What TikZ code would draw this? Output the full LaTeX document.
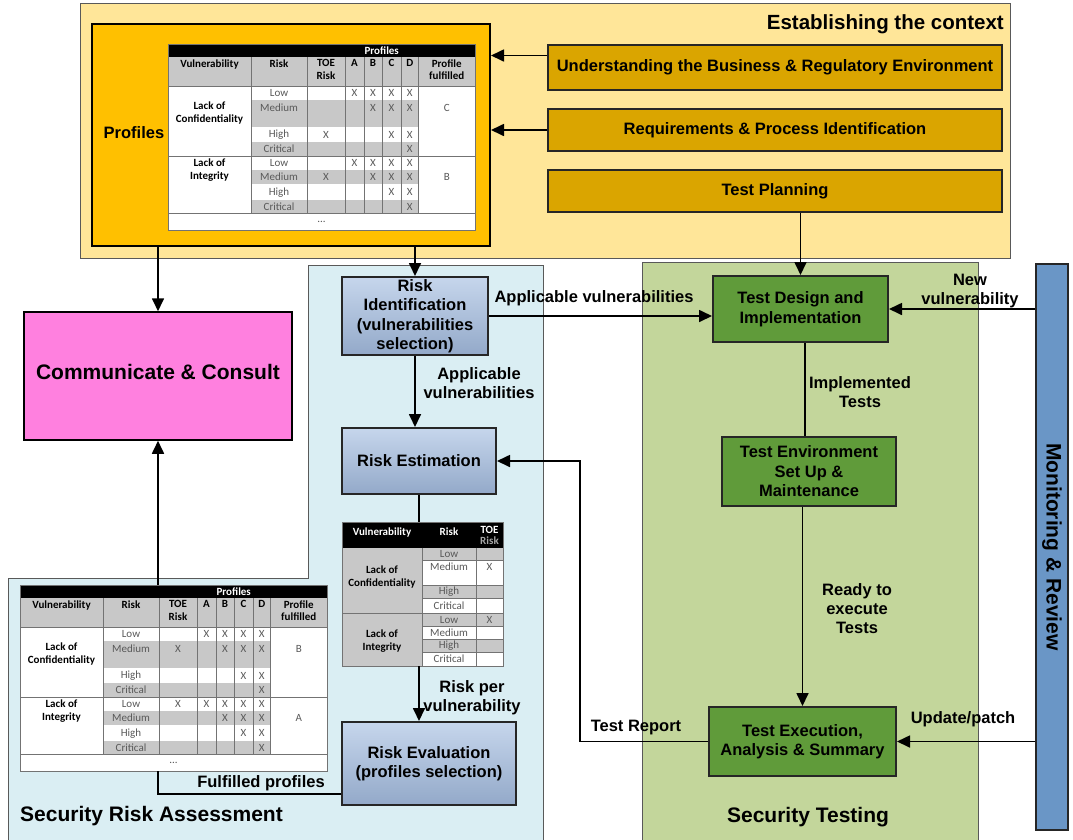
\documentclass[tikz,border=0pt]{standalone}
\usepackage{fontspec}
\setmainfont{Liberation Sans}
\newfontfamily\tabfont{Carlito}
\usetikzlibrary{arrows.meta,calc}

\definecolor{ctxY}{HTML}{FFE699}
\definecolor{profO}{HTML}{FFC000}
\definecolor{boxO}{HTML}{DAA500}
\definecolor{blueR}{HTML}{DAEEF3}
\definecolor{greenR}{HTML}{C3D69B}
\definecolor{greenB}{HTML}{609B3A}
\definecolor{magC}{HTML}{FF80DF}
\definecolor{monB}{HTML}{6A96C6}
\definecolor{riskA}{HTML}{C6D6EC}
\definecolor{riskB}{HTML}{93A9C9}
\definecolor{tgray}{HTML}{C8C8C8}

\tikzset{
  sz/.style 2 args={minimum width=#1pt, minimum height=#2pt, inner sep=0pt},
  lab/.style={font=\bfseries\fontsize{16.5}{19}\selectfont, align=center, inner sep=0pt},
  boxtxt/.style={font=\bfseries\fontsize{16.5}{19.5}\selectfont, align=center, inner sep=0pt},
  obox/.style={draw=black!85, line width=2pt, fill=boxO, boxtxt},
  gbox/.style={draw=black!85, line width=2pt, fill=greenB, boxtxt},
  rbox/.style={draw=black!85, line width=2pt, top color=riskA, bottom color=riskB, boxtxt},
  arr/.style={line width=1.7pt, -{Triangle[length=13pt,width=12pt]}},
  ln/.style={line width=1.7pt},
  region/.style={draw=black!65, line width=1pt},
  rtitle/.style={font=\bfseries\fontsize{21}{25}\selectfont, inner sep=0pt},
  tn/.style={font=\tabfont\fontsize{11}{12.5}\selectfont, text=black!65, inner sep=0pt, align=center},
  tb/.style={font=\tabfont\bfseries\fontsize{11}{12.5}\selectfont, text=black, inner sep=0pt, align=center},
  tline/.style={draw=black!55, line width=0.6pt},
}

% profile table: #1 prefix, #2 origin, #3 letter 1, #4 letter 2, #5 X marks
\newcommand\ProfTab[5]{%
\begin{scope}[shift={#2}]
\fill[white] (0,0) rectangle (307,186);
\fill[black] (0,0) rectangle (307,13.4);
\fill[tgray] (0,13.4) rectangle (307,41.9);
\foreach \ya/\yb in {55.3/83.8,97.2/112.3,125.7/140.8,155.8/169.2}
  \fill[tgray] (83,\ya) rectangle (250.5,\yb);
\foreach \ya in {55.3,83.8,97.2,125.7,140.8,155.8}
  \draw[white,line width=0.8pt] (83,\ya) -- (250.5,\ya);
\foreach \cx in {83,139,177,196,214,233,250.5}
  \draw[tline] (\cx,13.4) -- (\cx,169.2);
\draw[tline] (0,41.9) -- (307,41.9) (0,112.3) -- (307,112.3) (0,169.2) -- (307,169.2);
\draw[tline] (0,0) rectangle (307,186);
\node[tb,text=white] (#1h) at (213.75,6.9) {Profiles};
\node[tb,anchor=north] (#1v) at (41.5,15.5) {Vulnerability};
\node[tb,anchor=north] (#1r) at (111,15.5) {Risk};
\node[tb,anchor=north] (#1t) at (158,15.5) {TOE\\Risk};
\node[tb,anchor=north] (#1a) at (186.5,15.5) {A};
\node[tb,anchor=north] (#1b) at (205,15.5) {B};
\node[tb,anchor=north] (#1c) at (223.5,15.5) {C};
\node[tb,anchor=north] (#1d) at (241.75,15.5) {D};
\node[tb,anchor=north] (#1p) at (278.75,15.5) {Profile\\fulfilled};
\node[tb] (#1lc) at (41.5,69) {Lack of\\Confidentiality};
\node[tb] (#1li) at (41.5,126) {Lack of\\Integrity};
\foreach \yy/\rtxt [count=\ii] in {48.6/Low,63.7/Medium,90.5/High,104.7/Critical,118.8/Low,133.2/Medium,148.3/High,162.5/Critical}
  \node[tn] (#1k\ii) at (111,\yy) {\rtxt};
\node[tn] (#1f1) at (278.75,63.7) {#3};
\node[tn] (#1f2) at (278.75,133.2) {#4};
\node[tn] (#1dots) at (153.5,177.6) {...};
#5
\end{scope}}

\newcommand\Xrow[3]{\foreach \cx [count=\ii] in {#3} \node[tn] (#1-\ii) at (\cx,#2) {X};}

\begin{document}
\begin{tikzpicture}[x=1pt,y=-1pt]
\useasboundingbox (0,0) rectangle (1073,839);
\clip (0,0) rectangle (1073,839);

% ---------- regions ----------
\node[region, fill=ctxY, sz={930}{255}] (ctx) at (545,130.5) {};
\node[font=\bfseries\fontsize{20.5}{24}\selectfont, anchor=east, inner sep=0pt] (ctxt) at (1004,24) {Establishing the context};
\draw[region, fill=blueR] (8,578) -- (308,578) -- (308,265) -- (543,265) -- (543,850) -- (8,850) -- cycle;
\node[region, fill=greenR, sz={336}{590}] (stg) at (810,557) {};
\node[draw=black!85, line width=1.5pt, fill=monB, sz={32}{566}] (mon) at (1052,547) {};

% ---------- establishing the context ----------
\node[draw=black, line width=2pt, fill=profO, sz={398}{222}] (prof) at (291,135) {};
\node[lab] (proflab) at (134,133) {Profiles};
\node[obox, sz={454}{45}] (ube) at (775,67.5) {Understanding the Business \& Regulatory Environment};
\node[obox, sz={454}{42}] (rpi) at (775,130) {Requirements \& Process Identification};
\node[obox, sz={454}{42}] (tp) at (775,191) {Test Planning};

\node[sz={307}{186}] (tt) at (321.5,137) {};
\ProfTab{tA}{(168,44)}{C}{B}{%
\Xrow{tA1}{48.6}{186.5,205,223.5,241.75}
\Xrow{tA2}{63.7}{205,223.5,241.75}
\Xrow{tA3}{90.5}{158,223.5,241.75}
\Xrow{tA4}{104.7}{241.75}
\Xrow{tA5}{118.8}{186.5,205,223.5,241.75}
\Xrow{tA6}{133.2}{158,205,223.5,241.75}
\Xrow{tA7}{148.3}{223.5,241.75}
\Xrow{tA8}{162.5}{241.75}}

% ---------- communicate ----------
\node[draw=black, line width=1.5pt, fill=magC, sz={268}{128}, font=\bfseries\fontsize{21}{24}\selectfont] (cc) at (158,376) {\raisebox{9pt}{Communicate \& Consult}};

% ---------- security risk assessment ----------
\node[rbox, sz={146}{78}] (ri) at (415,316) {Risk\\Identification\\(vulnerabilities\\selection)};
\node[rbox, sz={154}{66}] (re) at (419,461) {Risk Estimation};
\node[rbox, sz={174}{83}] (rev) at (429,763.5) {Risk Evaluation\\(profiles selection)};

\node[sz={161}{144}] (mt) at (422.5,594) {};
\begin{scope}[shift={(342,522)}]
\fill[white] (0,0) rectangle (161,144);
\fill[black] (0,0) rectangle (161,25.6);
\fill[tgray] (0,25.6) rectangle (80,144);
\foreach \ya/\yb in {25.6/38,63.3/76.7,91.2/104.3,117.1/129.9}
  \fill[tgray] (80,\ya) rectangle (161,\yb);
\foreach \ya in {38,63.3,76.7,104.3,117.1,129.9}
  \draw[tline] (80,\ya) -- (161,\ya);
\draw[tline] (80,25.6) -- (80,144) (134,25.6) -- (134,144) (0,91.2) -- (161,91.2);
\draw[tline] (0,0) rectangle (161,144);
\node[tb,text=white] (mv) at (40,10) {Vulnerability};
\node[tb,text=white] (mr) at (107,10) {Risk};
\node[tb,text=white] (mto) at (147.5,8) {TOE};
\node[tb,text=black!35] (mtr) at (147.5,19) {Risk};
\node[tb] (mlc) at (40,55) {Lack of\\Confidentiality};
\node[tb] (mli) at (40,119) {Lack of\\Integrity};
\foreach \yy/\rtxt [count=\ii] in {31.8/Low,44.7/Medium,70/High,84/Critical,97.8/Low,110.7/Medium,123.5/High,137/Critical}
  \node[tn] (mk\ii) at (107,\yy) {\rtxt};
\node[tn] (mx1) at (147.5,44.7) {X};
\node[tn] (mx2) at (147.5,97.8) {X};
\end{scope}

\node[sz={307}{186}] (bt) at (173.5,678) {};
\ProfTab{bA}{(20,585)}{B}{A}{%
\Xrow{bA1}{48.6}{186.5,205,223.5,241.75}
\Xrow{bA2}{63.7}{158,205,223.5,241.75}
\Xrow{bA3}{90.5}{223.5,241.75}
\Xrow{bA4}{104.7}{241.75}
\Xrow{bA5}{118.8}{158,186.5,205,223.5,241.75}
\Xrow{bA6}{133.2}{205,223.5,241.75}
\Xrow{bA7}{148.3}{223.5,241.75}
\Xrow{bA8}{162.5}{241.75}}

% ---------- security testing ----------
\node[gbox, sz={175}{66}] (td) at (800.5,309) {Test Design and\\Implementation};
\node[gbox, sz={174}{69}] (tenv) at (809,471.5) {Test Environment\\Set Up \&\\Maintenance};
\node[gbox, sz={187}{69}] (te) at (802.5,741.5) {Test Execution,\\Analysis \& Summary};

% ---------- connectors ----------
\draw[arr] ([yshift=12pt]ube.west) -- ([yshift=12pt]ube.west -| prof.east);
\draw[arr] (rpi.west) -- (rpi.west -| prof.east);
\draw[arr] (td.north |- tp.south) -- (td.north);
\draw[arr] (cc.north |- prof.south) -- (cc.north);
\draw[arr] (ri.north |- prof.south) -- (ri.north);
\draw[arr] (ri.east) -- (ri.east -| td.west);
\draw[arr] (ri.south) -- (ri.south |- re.north);
\draw[ln] (re.south) -- (re.south |- mt.north);
\draw[arr] (re.south |- mt.south) -- (re.south |- rev.north);
\coordinate (fp) at (158,794);
\draw[ln] (rev.west |- fp) -- (fp) -- (fp |- bt.south);
\draw[arr] (cc.south |- bt.north) -- (cc.south);
\draw[ln] ([xshift=4.5pt]td.south) -- ([xshift=4.5pt]td.south |- tenv.north);
\draw[arr] (te.north |- tenv.south) -- (te.north);
\draw[arr] (mon.west |- td.east) -- (td.east);
\draw[arr] (mon.west |- te.east) -- (te.east);
\coordinate (trc) at (580,741);
\draw[arr] (te.west) -- (te.west -| trc) -- (trc |- re.east) -- (re.east);

% ---------- labels ----------
\node[lab] (l1) at (594,298) {Applicable vulnerabilities};
\node[lab] (l2) at (479,383) {Applicable\\vulnerabilities};
\node[lab] (l3) at (860,392) {Implemented\\Tests};
\node[lab] (l4) at (857,609) {Ready to\\execute\\Tests};
\node[lab] (l5) at (472,698) {Risk per\\vulnerability};
\node[lab] (l6) at (261,783) {Fulfilled profiles};
\node[lab] (l7) at (636,728) {Test Report};
\node[lab] (l8) at (970,291) {New\\vulnerability};
\node[lab] (l9) at (963,719) {Update/patch};

\node[rtitle, anchor=west] (sra) at (20,816) {Security Risk Assessment};
\node[rtitle] (stt) at (808,817) {Security Testing};
\node[rtitle, rotate=-90] (mrt) at (mon.center) {Monitoring \& Review};
\end{tikzpicture}
\end{document}
